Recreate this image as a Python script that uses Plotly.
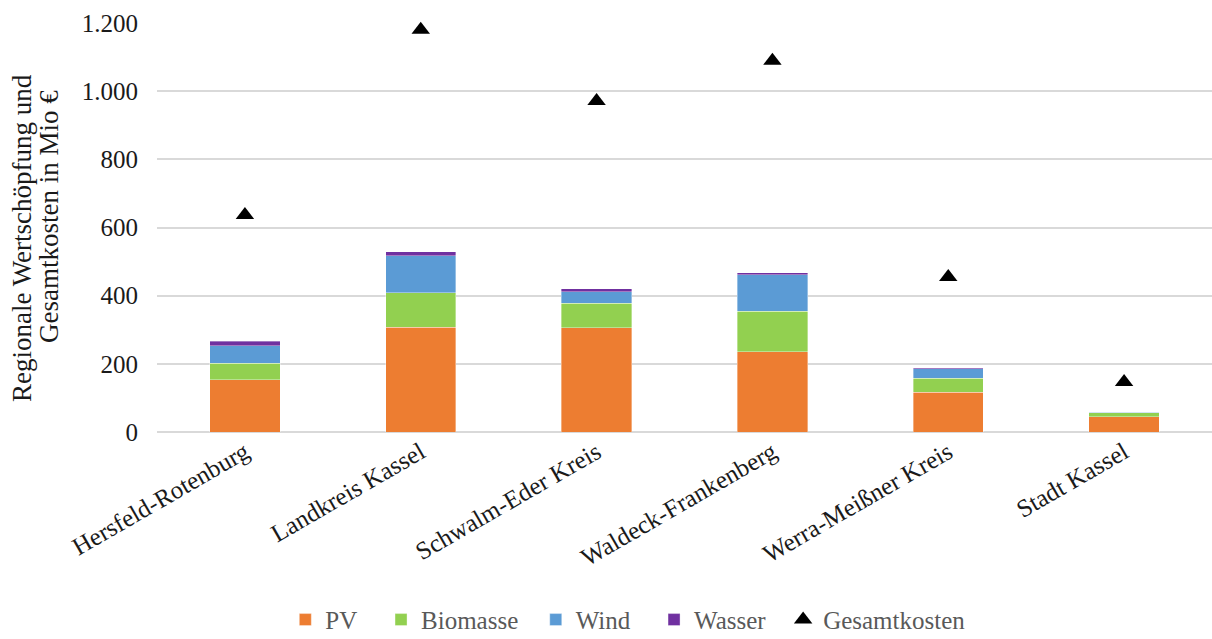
import plotly.graph_objects as go

categories = ["Hersfeld-Rotenburg", "Landkreis Kassel", "Schwalm-Eder Kreis",
              "Waldeck-Frankenberg", "Werra-Meißner Kreis", "Stadt Kassel"]
pv = [153, 307, 306, 236, 117, 45]
biomasse = [49, 101, 72, 118, 41, 12]
wind = [51, 109, 33, 108, 28, 1]
wasser = [14, 12, 9, 5, 2, 1]
gesamtkosten = [637, 1180, 971, 1089, 455, 147]
y_title_lines = ["Regionale Wertschöpfung und", "Gesamtkosten in Mio €"]

font_family = "Liberation Serif"
NB = "\u00a0"

fig = go.Figure()
for name, vals, col, pad in [("PV", pv, "#ED7D31", 3), ("Biomasse", biomasse, "#92D050", 2),
                             ("Wind", wind, "#5B9BD5", 3), ("Wasser", wasser, "#7030A0", 2)]:
    fig.add_trace(go.Bar(x=categories, y=vals, name=name + NB * pad,
                         marker=dict(color=col, line=dict(width=0.6, color="rgba(255,255,255,0.6)")),
                         width=0.4))
fig.add_trace(go.Scatter(x=categories, y=gesamtkosten, name="Gesamtkosten", mode="markers",
                         marker=dict(symbol="triangle-up", color="black", size=16),
                         cliponaxis=False))

# plot area: x 157..1212 px, y 23..432 px
def px_x(p):
    return (p - 157) / 1055.0

def px_y(p):
    return (432 - p) / 409.0

for txt, xc, yc in [(y_title_lines[0], 22, 238), (y_title_lines[1], 49, 217)]:
    fig.add_annotation(text=txt, xref="paper", yref="paper", x=px_x(xc), y=px_y(yc),
                       textangle=-90, showarrow=False, xanchor="center", yanchor="middle",
                       font=dict(family=font_family, size=27, color="#1a1a1a"))

fig.update_layout(
    barmode="stack",
    width=1212, height=639,
    margin=dict(l=157, r=0, t=23, b=207),
    paper_bgcolor="white", plot_bgcolor="white",
    separators=",.",
    font=dict(family=font_family, size=25, color="#1a1a1a"),
    legend=dict(orientation="h", x=0.518, xanchor="center", xref="container",
                y=0.03, yref="container", yanchor="middle",
                font=dict(size=25, color="#595959"), traceorder="normal",
                itemwidth=30),
    xaxis=dict(tickangle=-30, tickfont=dict(size=25, color="#1a1a1a"),
               showline=False, showgrid=False, ticks=""),
    yaxis=dict(range=[0, 1200], tickvals=[0, 200, 400, 600, 800, 1000, 1200],
               tickformat=",d", showgrid=True, gridcolor="#d9d9d9", gridwidth=1.5,
               zeroline=True, zerolinecolor="#d9d9d9", zerolinewidth=1.5,
               tickfont=dict(size=25, color="#1a1a1a"), ticks="", ticklabelstandoff=18),
)

fig.write_html("out.html", config={"displayModeBar": False},
               post_script="document.body.style.margin='0';document.body.style.overflow='hidden';")
